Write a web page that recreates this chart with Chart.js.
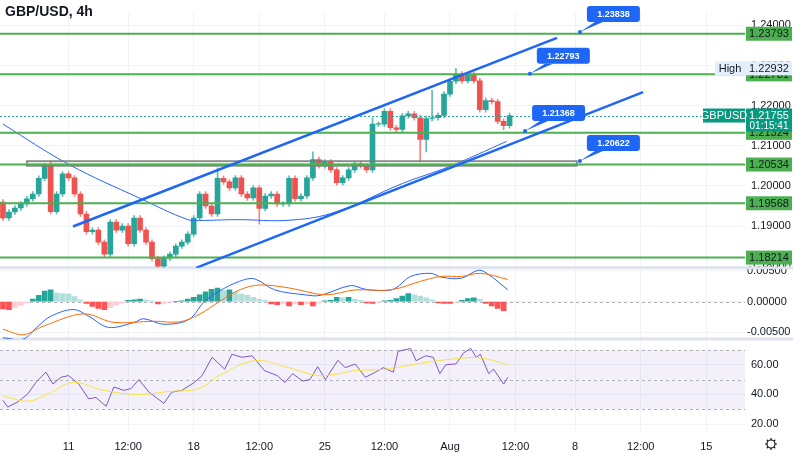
<!DOCTYPE html>
<html><head><meta charset="utf-8">
<script src="https://cdn.jsdelivr.net/npm/chart.js@4.4.1/dist/chart.umd.min.js"></script>
<style>html,body{margin:0;padding:0;background:#fff}#w{width:793px;height:454px}</style>
</head><body><div id="w"><canvas id="c"></canvas></div>
<script>
const SLOTS = 125;
const timeLabels = {11:'11',21:'12:00',32:'18',43:'12:00',54:'25',64:'12:00',75:'Aug',86:'12:00',96:'8',107:'12:00',118:'15'};
const priceTicks = [1.18,1.19,1.20,1.21,1.22,1.23,1.24];
const macdTicks = [-0.005,0,0.005];
const rsiTicks = [20,40,60];
const firstOpen = 1.1960;
const closes = [1.1920,1.1935,1.1945,1.1955,1.1968,1.1980,1.2019,1.2050,1.1936,1.1980,
1.2030,1.2020,1.1980,1.1930,1.1886,1.1890,1.1860,1.1830,1.1910,1.1890,
1.1900,1.1856,1.1920,1.1890,1.1860,1.1819,1.1800,1.1820,1.1830,1.1850,
1.1860,1.1880,1.1920,1.1980,1.1950,1.1930,1.2019,1.2010,1.1995,1.2020,
1.1980,1.1970,1.1995,1.1944,1.1975,1.1980,1.1955,1.1955,1.2019,1.1968,
1.1975,1.2020,1.2066,1.2050,1.2060,1.2040,1.2008,1.2020,1.2040,1.2055,
1.2050,1.2040,1.2154,1.2154,1.2186,1.2145,1.2141,1.2175,1.2180,1.2170,
1.2116,1.2168,1.2170,1.2176,1.2229,1.2261,1.2279,1.2262,1.2277,1.2262,
1.2190,1.2213,1.2210,1.2161,1.2150,1.21755];
const highOverrides = {8:1.2062,36:1.2045,52:1.2085,72:1.2238,76:1.2293,62:1.2170};
const lowOverrides = {26:1.1797,43:1.1905,70:1.2060,71:1.2085,84:1.2140};
const wickSize = 0.0006;
const maPts = [[0,1.2154],[11,1.2054],[23,1.1969],[31,1.1916],[33,1.1914],[39,1.1916],[48.5,1.1915],[56,1.1936],[67,1.2006],[75,1.2049],[84.5,1.2111]];
const macdHist = [-0.0012,-0.0013,-0.0010,-0.0006,-0.0002,0.0004,0.0010,0.0017,0.0019,0.0014,
0.0013,0.0012,0.0008,0.0003,-0.0003,-0.0008,-0.0011,-0.0013,-0.0010,-0.0006,
-0.0002,0.0002,0.0003,0.0004,0.0003,0.0001,-0.0004,-0.0003,-0.0001,0.0000,
0.0001,0.0004,0.0007,0.0011,0.0016,0.0020,0.0022,0.0018,0.0019,0.0015,
0.0012,0.0010,0.0007,0.0004,0.0002,-0.0004,-0.0005,-0.0003,-0.0007,-0.0004,
-0.0005,-0.0004,-0.0007,-0.0002,0.0001,0.0002,0.0007,0.0006,0.0007,0.0004,
0.0002,-0.0002,-0.0003,-0.0001,0.0001,0.0002,0.0005,0.0009,0.0013,0.0011,
0.0009,0.0006,0.0003,-0.0002,-0.0003,-0.0003,-0.0001,0.0002,0.0005,0.0006,
0.0004,-0.0003,-0.0007,-0.0011,-0.0015];
const macdPts = [[0,-0.0059],[3.4,-0.0061],[5.9,-0.0040],[8,-0.0024],[11.8,-0.0013],[14.4,-0.0024],[17.7,-0.0042],[22,-0.0034],[23.6,-0.0028],[27,-0.0037],[31.2,-0.0029],[33.8,0.0000],[36.3,0.0017],[39.7,0.0033],[42.2,0.0037],[45.6,0.0019],[50.7,0.0011],[53.2,0.0010],[58.3,0.0026],[60.8,0.0020],[64.2,0.0018],[65.9,0.0022],[68.4,0.0041],[71.8,0.0046],[73.5,0.0040],[76.9,0.0038],[79.8,0.0051],[81.5,0.0044],[84.7,0.0019]];
const signalPts = [[0,-0.0045],[3.4,-0.0054],[6.8,-0.0040],[13.5,-0.0020],[18.6,-0.0034],[25.3,-0.0032],[29.6,-0.0033],[32.9,-0.0021],[36.3,0.0000],[39.7,0.0019],[43.1,0.0027],[48.1,0.0022],[54.1,0.0011],[59.1,0.0019],[65,0.0019],[70.1,0.0033],[73.5,0.0041],[76.9,0.0041],[80.2,0.0046],[84.7,0.0036]];
const rsiPts = [[0,36],[0.8,31.5],[2.5,35],[4.2,40.5],[5.5,48],[7.2,55],[8.4,47],[9.7,51.5],[11,52.7],[12.7,47],[14.4,37],[15.6,38],[17.3,32],[18.6,45],[20.3,42.7],[21.5,44],[22.8,50],[24.5,41.5],[27,34],[28.3,41.5],[30,42.7],[32.1,48],[33.4,52.7],[35.1,65],[37.2,57],[38.4,67],[40.1,65],[41.8,66],[43.9,56],[46,52.7],[47.3,48],[48.6,54],[50.3,49],[51.5,50],[52.8,58.7],[54.1,50],[56.2,63],[57.4,58],[59.1,60.5],[60.8,51.5],[62.5,55],[63.8,58],[65.5,55],[66.3,69],[68.4,71],[69.3,62.7],[70.9,66],[72.2,65],[73.3,54],[74.3,60],[76,60.5],[77.3,68],[78.5,71],[79.4,65],[80.1,67],[81.5,54],[82.3,57],[84,47],[84.7,51.5]];
const rsiMaPts = [[0,39],[4.2,35.5],[7.6,40.5],[11.8,48],[16.9,42.7],[22.8,40],[27.9,42],[32.9,44],[36.3,52.7],[42.2,62.7],[47.3,58.7],[52.4,53],[54.9,53],[59.1,56],[64.2,57],[70.1,61],[76,64],[80.2,64.5],[84.7,60]];
const levels = [1.23793,1.22781,1.21324,1.20534,1.19568,1.18214];
const upperChannel = [[11.75,1.1899],[92.96,1.2369]];
const lowerChannel = [[32.4,1.1796],[107.4,1.2234]];
const zoneBox = {x0:4.0,x1:96.3,y0:1.2062,y1:1.2050};
const callouts = [{x:96.8,y:1.23838,t:'1.23838'},{x:88.4,y:1.22793,t:'1.22793'},{x:87.6,y:1.21368,t:'1.21368'},{x:96.8,y:1.20622,t:'1.20622'}];
const lastPrice = 1.21755, highPrice = 1.22932;

const opens = closes.map((c,i)=> i===0?firstOpen:closes[i-1]);
const bodies = closes.map((c,i)=>{let o=opens[i]; if(Math.abs(o-c)<0.00012){o=c+0.00012;} return {x:i,y:[o,c]};});
const wicks = closes.map((c,i)=>({x:i,y:[lowOverrides[i]??Math.min(opens[i],c)-wickSize, highOverrides[i]??Math.max(opens[i],c)+wickSize]}));
const candleCol = closes.map((c,i)=> c>=opens[i]?'#26a69a':'#ef5350');
const wickCol = closes.map((c,i)=> c>=opens[i]?'#5fbdb3':'#f28482');
const histData = macdHist.map((v,i)=>({x:i,y:v}));
const histCol = macdHist.map((v,i)=>{const p=i?macdHist[i-1]:0; if(v>=0) return v>=p?'#26a69a':'#b2dfdb'; return v<=p?'#ff5252':'#ffcdd2';});
const pts = a=>a.map(p=>({x:p[0],y:p[1]}));
const FONT='"Liberation Sans", Arial, sans-serif';
const setTicks = arr => s => { s.ticks = arr.map(v=>({value:v})); };
const timeTickVals = Object.keys(timeLabels).map(Number);

const overlay = {
 id:'overlay',
 beforeDatasetsDraw(ch){
  const {ctx,chartArea:ca,scales:{y,yM,yR}}=ch;
  ctx.save();
  const t=yR.getPixelForValue(70), b=yR.getPixelForValue(30);
  ctx.fillStyle='rgba(126,87,194,0.09)'; ctx.fillRect(ca.left,t,ca.right-ca.left,b-t);
  ctx.setLineDash([3,3]); ctx.strokeStyle='#b0b0b8'; ctx.lineWidth=1;
  [70,50,30].forEach(v=>{const py=Math.round(yR.getPixelForValue(v))+0.5;ctx.beginPath();ctx.moveTo(ca.left,py);ctx.lineTo(ca.right,py);ctx.stroke();});
  const z=Math.round(yM.getPixelForValue(0))+0.5;ctx.beginPath();ctx.moveTo(ca.left,z);ctx.lineTo(ca.right,z);ctx.stroke();
  ctx.setLineDash([]);
  ctx.strokeStyle='#e0e3eb';ctx.lineWidth=3;
  [y.bottom, yM.bottom].forEach(py=>{ctx.beginPath();ctx.moveTo(0,py);ctx.lineTo(793,py);ctx.stroke();});
  ctx.restore();
 },
 afterDatasetsDraw(ch){
  const {ctx,chartArea:ca,scales:{x,y}}=ch;
  ctx.save();
  ctx.beginPath();ctx.rect(ca.left,y.top,ca.right-ca.left,y.bottom-y.top);ctx.clip();
  ctx.setLineDash([2,2]);ctx.strokeStyle='#26a69a';ctx.lineWidth=1;
  let py=Math.round(y.getPixelForValue(lastPrice))+0.5;ctx.beginPath();ctx.moveTo(ca.left,py);ctx.lineTo(ca.right,py);ctx.stroke();ctx.setLineDash([]);
  const bx0=x.getPixelForValue(zoneBox.x0),bx1=x.getPixelForValue(zoneBox.x1),by0=y.getPixelForValue(zoneBox.y0),by1=y.getPixelForValue(zoneBox.y1);
  ctx.fillStyle='rgba(76,175,80,0.18)';ctx.fillRect(bx0,by0,bx1-bx0,by1-by0);
  ctx.strokeStyle='#7a7a7a';ctx.lineWidth=1.5;ctx.strokeRect(bx0,by0,bx1-bx0,by1-by0);
  ctx.strokeStyle='#4caf50';ctx.lineWidth=2;
  levels.forEach(v=>{const p=y.getPixelForValue(v);ctx.beginPath();ctx.moveTo(ca.left,p);ctx.lineTo(ca.right,p);ctx.stroke();});
  ctx.strokeStyle='#1e66f5';ctx.lineWidth=2.5;
  [upperChannel,lowerChannel].forEach(l=>{ctx.beginPath();ctx.moveTo(x.getPixelForValue(l[0][0]),y.getPixelForValue(l[0][1]));ctx.lineTo(x.getPixelForValue(l[1][0]),y.getPixelForValue(l[1][1]));ctx.stroke();});
  ctx.restore();
  ctx.save();
  ctx.font='bold 9px '+FONT;ctx.textAlign='center';ctx.textBaseline='middle';
  callouts.forEach(c=>{const ax=x.getPixelForValue(c.x),ay=y.getPixelForValue(c.y);
   const bx=ax+7,by=ay-26,w=53,h=16;
   ctx.fillStyle='#1e66f5';
   ctx.beginPath();ctx.moveTo(ax,ay);ctx.lineTo(bx+8,by+h);ctx.lineTo(bx+16,by+h);ctx.closePath();ctx.fill();
   ctx.beginPath();ctx.roundRect(bx,by,w,h,3);ctx.fill();
   ctx.beginPath();ctx.arc(ax,ay,2,0,7);ctx.fill();
   ctx.fillStyle='#fff';ctx.fillText(c.t,bx+w/2,by+h/2+0.5);});
  ctx.restore();
 },
 afterDraw(ch){
  const {ctx,chartArea:ca,scales:{y}}=ch;
  ctx.save();
  ctx.font='bold 14px '+FONT;ctx.fillStyle='#131722';ctx.textBaseline='middle';ctx.textAlign='left';
  ctx.fillText('GBP/USD, 4h',5,12);
  ctx.font='11px '+FONT;
  const tag=(v,txt,bg,fg)=>{const p=y.getPixelForValue(v);ctx.fillStyle=bg;ctx.fillRect(ca.right+1,p-7,46,14);ctx.fillStyle=fg;ctx.textAlign='center';ctx.fillText(txt,ca.right+24,p+0.5);};
  levels.forEach(v=>tag(v,v.toFixed(5),'#4caf50','#131722'));
  let hp=y.getPixelForValue(highPrice);
  ctx.fillStyle='#e3effd';ctx.fillRect(ca.right-30,hp-7,77,14);
  ctx.fillStyle='#131722';ctx.textAlign='center';ctx.fillText('High',ca.right-15,hp+0.5);ctx.fillText(highPrice.toFixed(5),ca.right+24,hp+0.5);
  let lp=y.getPixelForValue(lastPrice);
  ctx.fillStyle='#089981';ctx.fillRect(ca.right-42,lp-7,42,14);ctx.fillRect(ca.right+1,lp-7,46,23);
  ctx.fillStyle='#fff';ctx.fillText('GBPUSD',ca.right-21,lp+0.5);ctx.fillText(lastPrice.toFixed(5),ca.right+24,lp+0.5);
  ctx.font='10px '+FONT;ctx.fillText('01:15:41',ca.right+24,lp+11);
  ctx.strokeStyle='#131722';ctx.lineWidth=1.2;ctx.beginPath();ctx.arc(771,444,4,0,7);ctx.stroke();
  for(let k=0;k<8;k++){const a=k*Math.PI/4;ctx.beginPath();ctx.moveTo(771+4*Math.cos(a),444+4*Math.sin(a));ctx.lineTo(771+6*Math.cos(a),444+6*Math.sin(a));ctx.stroke();}
  ctx.restore();
 }
};

const lineDS = (label,data,axis,color,tension,order)=>({type:'line',label,data:pts(data),yAxisID:axis,borderColor:color,borderWidth:1,pointRadius:0,tension,order});

new Chart(document.getElementById('c'),{
 type:'bar',
 data:{datasets:[
  {label:'wick',data:wicks,yAxisID:'y',backgroundColor:wickCol,barThickness:1,grouped:false,order:5},
  {label:'body',data:bodies,yAxisID:'y',backgroundColor:candleCol,barThickness:5,grouped:false,order:4},
  lineDS('ma',maPts,'y','#2962ff',0.4,3),
  {label:'hist',data:histData,yAxisID:'yM',backgroundColor:histCol,barThickness:5,grouped:false,order:4},
  lineDS('macd',macdPts,'yM','#2962ff',0.35,2),
  lineDS('sig',signalPts,'yM','#ff6d00',0.35,1),
  lineDS('rsi',rsiPts,'yR','#7e57c2',0,2),
  lineDS('rsima',rsiMaPts,'yR','#f5e342',0.4,1)
 ]},
 options:{responsive:true,maintainAspectRatio:false,animation:false,
  layout:{padding:0},
  plugins:{legend:{display:false},tooltip:{enabled:false}},
  scales:{
   x:{type:'linear',offset:false,min:-0.5,max:SLOTS-0.5,afterBuildTicks:setTicks(timeTickVals),
      afterFit:s=>{s.height=22},
      grid:{color:'#f0f3fa',drawTicks:false,offset:false},border:{display:false},
      ticks:{autoSkip:false,maxRotation:0,color:'#131722',font:{size:11,family:FONT},padding:8,callback:v=>timeLabels[v]||''}},
   y:{position:'right',stack:'s',stackWeight:258,min:1.1796,max:1.2432,afterBuildTicks:setTicks(priceTicks),
      afterFit:s=>{s.width=48},border:{display:false},grid:{color:'#f0f3fa',drawTicks:false},
      ticks:{color:'#131722',font:{size:11,family:FONT},padding:6,callback:v=>v.toFixed(5)}},
   yM:{position:'right',stack:'s',stackWeight:72,min:-0.0061,max:0.0055,afterBuildTicks:setTicks(macdTicks),
      afterFit:s=>{s.width=48},border:{display:false},grid:{color:'#f0f3fa',drawTicks:false},
      ticks:{color:'#131722',font:{size:11,family:FONT},padding:2,callback:v=>(Math.abs(v)<1e-9?0:v).toFixed(5)}},
   yR:{position:'right',stack:'s',stackWeight:94,min:14.7,max:77.3,afterBuildTicks:setTicks(rsiTicks),
      afterFit:s=>{s.width=48},border:{display:false},grid:{color:'#f0f3fa',drawTicks:false},
      ticks:{color:'#131722',font:{size:11,family:FONT},padding:6,callback:v=>v.toFixed(2)}}
  }},
 plugins:[overlay]
});
</script></body></html>
